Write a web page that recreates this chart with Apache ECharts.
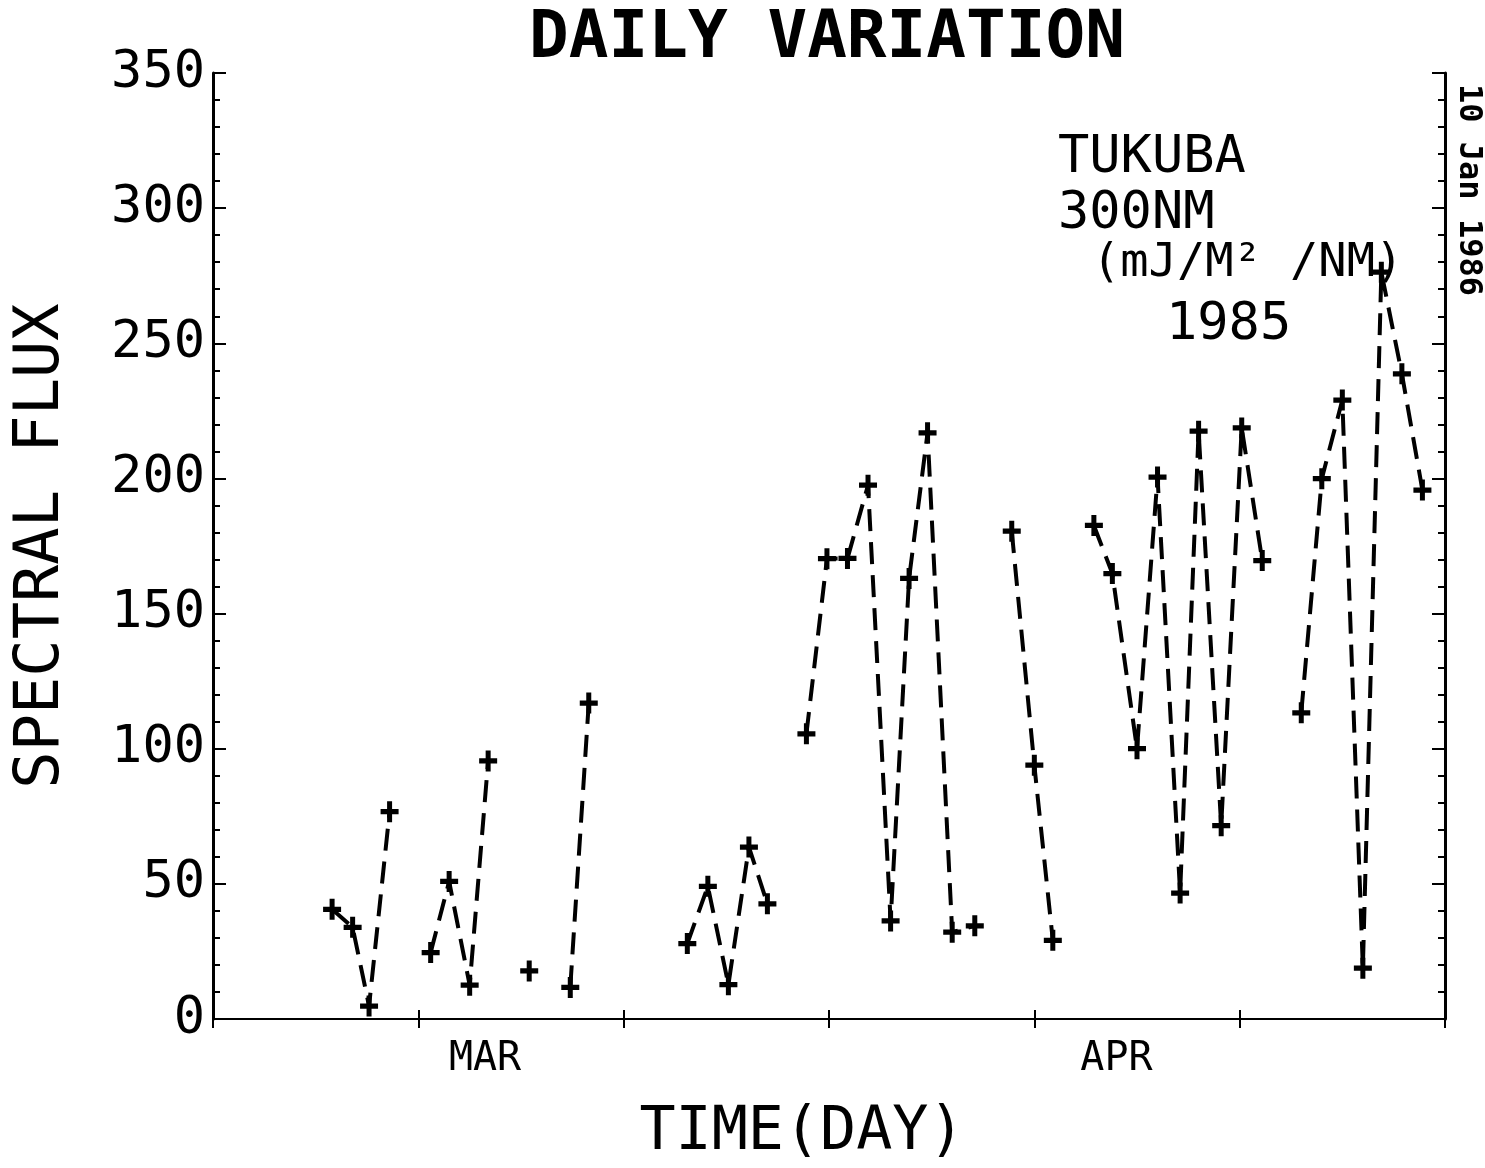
<!DOCTYPE html>
<html>
<head>
<meta charset="utf-8">
<script src="https://cdn.jsdelivr.net/npm/echarts@6/dist/echarts.min.js"></script>
<style>
  html, body { margin: 0; padding: 0; background: #fff; }
  #chart { width: 1485px; height: 1168px; }
</style>
</head>
<body>
<div id="chart"></div>
<script>
// day of year 1985 (position of each '+'), null = missing day -> line break
var days = [55.8, 56.8, 57.6, 58.6, 59.6, 60.6, 61.5, 62.5, 63.4, 64.4, 65.4, 66.4, 67.4, 68.3, 70.0,
            73.1, 74.1, 75.1, 76.1, 77.0, 78.0, 78.9, 79.9, 80.9, 81.9, 83.0, 83.9, 84.8, 86.0, 87.1, 88.0,
            88.9, 90.0, 90.9, 91.9, 92.9, 93.8, 95.0, 96.0, 97.1, 98.0, 99.1, 100.1, 101.1, 102.0,
            103.0, 104.0, 105.0, 106.0, 106.9, 107.9, 108.9];
var flux = [40.6, 33.9, 4.8, 76.7, null, 24.6, 50.9, 12.5, 95.5, null, 17.8, null, 11.7, 116.9, null,
            27.9, 49.1, 12.7, 63.6, 42.6, null, 105.5, 170.3, 170.4, 197.5, 36.3, 163, 216.9, 32.1, 34.5, null,
            180.5, 93.9, 29.1, null, 182.6, 164.8, 100, 200.5, 46.6, 217.5, 71.5, 218.7, 169.6, null,
            113.3, 199.9, 229, 18.8, 276.3, 238.7, 195.7];

var yTicks = [0, 50, 100, 150, 200, 250, 300, 350];
var monthPos = [63.25, 94];
var monthNames = ['MAR', 'APR'];

var FONT = 'DejaVu Sans Mono';

var seriesData = days.map(function (d, i) {
  return [d, flux[i] === null ? '-' : flux[i]];
});

var chartDom = document.getElementById('chart');
var myChart = echarts.init(chartDom);

var tickStyle = { color: '#000', width: 2 };

var option = {
  animation: false,
  backgroundColor: '#fff',
  title: {
    text: 'DAILY VARIATION',
    left: 822,
    textAlign: 'center',
    top: 2,
    textStyle: { fontFamily: FONT, fontSize: 66, fontWeight: 'bold', color: '#000' }
  },
  grid: { left: 213, right: 40, top: 73, bottom: 135 },
  xAxis: [
    {
      type: 'value', position: 'bottom', min: 50, max: 110, interval: 10,
      name: 'TIME(DAY)', nameLocation: 'middle', nameGap: 84,
      nameTextStyle: { fontFamily: FONT, fontSize: 60, color: '#000', padding: [0, 54, 0, 0] },
      axisLine: { show: true, lineStyle: { color: '#000', width: 2 } },
      axisTick: { show: true, inside: true, length: 9, lineStyle: tickStyle },
      axisLabel: { show: false },
      splitLine: { show: false }
    },
    {
      type: 'value', position: 'top', min: 50, max: 110, interval: 10,
      axisLine: { show: true, lineStyle: { color: '#000', width: 2 } },
      axisTick: { show: true, inside: true, length: 9, lineStyle: tickStyle },
      axisLabel: { show: false },
      splitLine: { show: false }
    },
    {
      type: 'value', position: 'bottom', min: 50, max: 110, interval: 0.25,
      axisLine: { show: false },
      axisTick: { show: false },
      splitLine: { show: false },
      axisLabel: {
        show: true, margin: 21,
        fontFamily: FONT, fontSize: 40, color: '#000',
        showMinLabel: false, showMaxLabel: false,
        formatter: function (v) {
          var k = monthPos.indexOf(v);
          return k >= 0 ? monthNames[k] : '';
        }
      }
    }
  ],
  yAxis: [
    {
      type: 'value', position: 'left', min: yTicks[0], max: yTicks[yTicks.length - 1], interval: 50,
      name: 'SPECTRAL FLUX', nameLocation: 'middle', nameGap: 140,
      nameTextStyle: { fontFamily: FONT, fontSize: 62, color: '#000' },
      axisLine: { show: true, lineStyle: { color: '#000', width: 3 } },
      axisTick: { show: true, inside: true, length: 13, lineStyle: tickStyle },
      minorTick: { show: true, splitNumber: 5, length: 7, lineStyle: tickStyle },
      axisLabel: { margin: 8, fontFamily: FONT, fontSize: 52, color: '#000' },
      splitLine: { show: false }
    },
    {
      type: 'value', position: 'right', min: yTicks[0], max: yTicks[yTicks.length - 1], interval: 50,
      axisLine: { show: true, lineStyle: { color: '#000', width: 3 } },
      axisTick: { show: true, inside: true, length: 13, lineStyle: tickStyle },
      minorTick: { show: true, splitNumber: 5, length: 7, lineStyle: tickStyle },
      axisLabel: { show: false },
      splitLine: { show: false }
    }
  ],
  series: [
    {
      name: 'flux',
      type: 'line',
      xAxisIndex: 0,
      yAxisIndex: 0,
      data: seriesData,
      connectNulls: false,
      showSymbol: true,
      symbol: 'path://M6.5,0h5v20h-5zM0,7.5h18v5h-18z',
      symbolSize: [18, 21],
      itemStyle: { color: '#000' },
      lineStyle: { color: '#000', width: 4, type: [22, 11] }
    }
  ],
  graphic: [
    { type: 'text', left: 1058, top: 132, style: { text: 'TUKUBA', fontFamily: FONT, fontSize: 52, fill: '#000' } },
    { type: 'text', left: 1058, top: 188, style: { text: '300NM', fontFamily: FONT, fontSize: 52, fill: '#000' } },
    { type: 'text', left: 1092, top: 240, style: { text: '(mJ/M\u00B2 /NM)', fontFamily: FONT, fontSize: 47, fill: '#000' } },
    { type: 'text', left: 1166, top: 299, style: { text: '1985', fontFamily: FONT, fontSize: 52, fill: '#000' } },
    {
      type: 'text', x: 1468, y: 190, rotation: -Math.PI / 2,
      style: { text: '10 Jan 1986', fontFamily: FONT, fontSize: 32, fontWeight: 'bold', fill: '#000',
               align: 'center', verticalAlign: 'middle' }
    }
  ]
};

myChart.setOption(option);
</script>
</body>
</html>
